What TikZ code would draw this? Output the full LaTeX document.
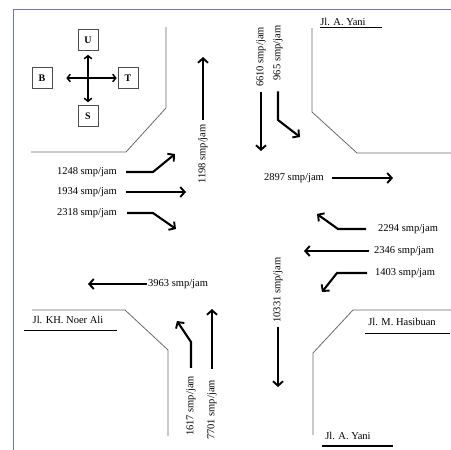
\documentclass[tikz,border=0pt]{standalone}
\usepackage{fontspec}
\setmainfont{Liberation Serif}
\usetikzlibrary{arrows.meta}
\definecolor{framecol}{RGB}{110,122,175}
\definecolor{roadcol}{RGB}{105,105,105}

\begin{document}
\begin{tikzpicture}[x=1pt, y=-1pt,
    flow/.style={line width=2.1pt, -{Straight Barb[length=4.5pt, width=10pt, line width=1.9pt]}},
    twoway/.style={line width=1.6pt, {Straight Barb[length=3pt, width=7.5pt, line width=1.5pt]}-{Straight Barb[length=3pt, width=7.5pt, line width=1.5pt]}},
    road/.style={draw=roadcol, line width=0.8pt},
    under/.style={line width=1.8pt},
    vol/.style={font=\fontsize{10.5}{12}\selectfont, inner sep=1pt},
    street/.style={font=\fontsize{10.5}{12}\selectfont, inner sep=1pt},
    dir/.style={draw=black!70, line width=0.6pt, font=\bfseries\fontsize{10}{12}\selectfont,
        minimum width=20pt, minimum height=21pt, inner sep=0pt}]
    \useasboundingbox (0,0) rectangle (451,450);
    % Frame
    \draw[framecol, line width=0.9pt] (13.5,450) -- (13.5,9) -- (451,9);
    % Compass
    \node[dir] (U) at (88,40) {U};
    \node[dir] (B) at (42,78) {B};
    \node[dir] (T) at (128,78) {T};
    \node[dir] (S) at (88,116) {S};
    \draw[twoway, shorten <=4pt, shorten >=3pt] (U.south) -- (S.north);
    \draw[twoway, shorten <=14pt, shorten >=1pt] (B.east) -- (T.west);
    % Road edges
    \draw[road] (166,27) -- (166,108) -- (126,152) -- (31,152);
    \draw[road] (312,28) -- (312,112) -- (357,153) -- (451,153);
    \draw[road] (32,310) -- (125,310) -- (168,350) -- (168,436);
    \draw[road] (451,310) -- (353,310) -- (313,353) -- (313,435);
    % Street names
    \node[street] (yaniN) at (343,22) {Jl. A. Yani};
    \draw[under] (320,27.5) -- (382,27.5);
    \node[street] (noer) at (68,320) {Jl. KH. Noer Ali};
    \draw[under] (24,330.5) -- (117,330.5);
    \node[street] (hasib) at (402,322) {Jl. M. Hasibuan};
    \draw[under] (365,333.5) -- (450,333.5);
    \node[street] (yaniS) at (348,436) {Jl. A. Yani};
    \draw[under] (322,446) -- (393,446);
    % Volumes from west
    \node[vol, anchor=east] (w1248) at (118,172) {1248 smp/jam};
    \node[vol, anchor=east] (w1934) at (118,192) {1934 smp/jam};
    \node[vol, anchor=east] (w2318) at (118,213) {2318 smp/jam};
    \coordinate (t1248) at (175,154);
    \coordinate (t1934) at (186,192);
    \coordinate (t2318) at (176,229);
    \draw[flow, shorten <=8pt] (w1248.east) -- (153,172) -- (t1248); % turn left
    \draw[flow, shorten <=8pt] (w1934.east) -- (t1934);               % straight
    \draw[flow, shorten <=9pt] (w2318.east) -- (153,213) -- (t2318); % turn right
    % Volumes from east
    \node[vol, anchor=west] (e2294) at (377,229) {2294 smp/jam};
    \node[vol, anchor=west] (e2346) at (373,251) {2346 smp/jam};
    \node[vol, anchor=west] (e1403) at (374,273) {1403 smp/jam};
    \coordinate (t2294) at (317,214);
    \coordinate (t2346) at (304,251);
    \coordinate (t1403) at (322,292);
    \draw[flow, shorten <=11pt] (e2294.west) -- (338,229) -- (t2294);
    \draw[flow, shorten <=4pt] (e2346.west) -- (t2346);
    \draw[flow, shorten <=7pt] (e1403.west) -- (337,273) -- (t1403);
    % Outgoing east and west
    \node[vol] (o2897) at (294,178) {2897 smp/jam};
    \coordinate (t2897) at (393,178);
    \draw[flow, shorten <=7pt] (o2897.east) -- (t2897);
    \node[vol, anchor=west] (o3963) at (147,284) {3963 smp/jam};
    \coordinate (t3963) at (88,284);
    \draw[flow] (o3963.west) -- (t3963);
    % Volumes from north
    \node[vol, rotate=90] (n6610) at (261,57) {6610 smp/jam};
    \node[vol, rotate=90] (n965) at (278,53) {965 smp/jam};
    \coordinate (t6610) at (261,151);
    \coordinate (t965) at (300,137);
    \draw[flow, shorten <=4pt] (n6610.west) -- (t6610);
    \draw[flow, shorten <=10pt] (n965.west) -- (278,120) -- (t965);
    % Outgoing north and south
    \node[vol, rotate=90] (o1198) at (203,154) {1198 smp/jam};
    \coordinate (t1198) at (203,57);
    \draw[flow, shorten <=3pt] (o1198.east) -- (t1198);
    \node[vol, rotate=90] (o10331) at (278,290) {10331 smp/jam};
    \coordinate (t10331) at (278,387);
    \draw[flow, shorten <=3pt] (o10331.west) -- (t10331);
    % Volumes from south
    \node[vol, rotate=90] (s1617) at (191,406) {1617 smp/jam};
    \node[vol, rotate=90] (s7701) at (212,410) {7701 smp/jam};
    \coordinate (t1617) at (177,321);
    \coordinate (t7701) at (212,309);
    \draw[flow, shorten <=7pt] (s1617.east) -- (191,342) -- (t1617);
    \draw[flow, shorten <=10pt] (s7701.east) -- (t7701);
\end{tikzpicture}
\end{document}
